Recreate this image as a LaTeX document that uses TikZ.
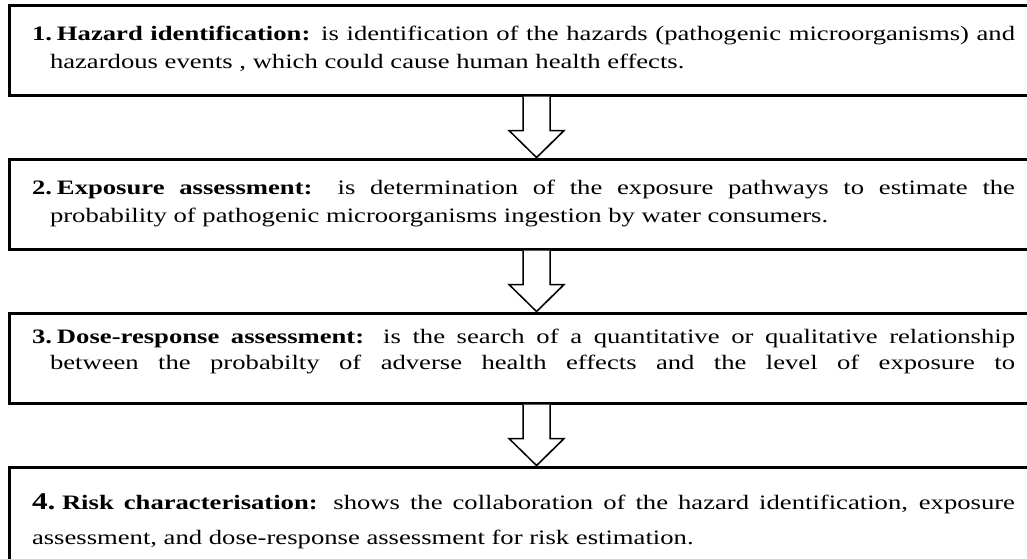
\documentclass[tikz,border=0pt]{standalone}
\usepackage{fontspec}
\setmainfont{Liberation Serif}[FakeStretch=1.3]
\usetikzlibrary{positioning, calc, shadows}

\newcommand{\stagetext}[2]{\leftskip=18pt\relax\hspace*{-18pt}\makebox[25pt][l]{\textbf{#1}}#2\par}

\begin{document}
\begin{tikzpicture}[
    node distance=61pt,
    stage/.style={rectangle, draw=black, line width=3pt, fill=white,
                  text width=983pt, inner xsep=23pt, inner ysep=0pt,
                  text height=35pt, text depth=55pt, align=justify,
                  font=\fontsize{20.5}{28.5}\selectfont},
    flowarrow/.style={draw=black, line width=1.5pt, fill=white,
                  drop shadow={shadow xshift=1pt, shadow yshift=-1pt, opacity=0.3}},
  ]
    \useasboundingbox (0,0) rectangle (1027pt,-558pt);
    \clip (0,0) rectangle (1027pt,-558pt);
    \node[stage, anchor=north west] (HAZ) at (7.5pt,-3.5pt)
      {\stagetext{1.}{\textbf{Hazard identification:} is identification of the hazards (pathogenic microorganisms) and\linebreak hazardous events , which could cause human health effects.}};
    \node[stage, below=of HAZ] (EXP)
      {\stagetext{2.}{\textbf{Exposure assessment:} is determination of the exposure pathways to estimate the\linebreak probability of pathogenic microorganisms ingestion by water consumers.}};
    \node[stage, text height=30pt, text depth=60pt, font=\fontsize{20.5}{26}\selectfont, below=of EXP] (DOSE)
      {\parfillskip=0pt\stagetext{3.}{\textbf{Dose-response assessment:} is the search of a quantitative or qualitative relationship\linebreak between the probabilty of adverse health effects and the level of exposure to}};
    \node[stage, text height=42pt, text depth=51pt, font=\fontsize{20.5}{35}\selectfont, below=of DOSE] (RISK)
      {\makebox[30pt][l]{\fontsize{24}{35}\selectfont\textbf{4.}}\textbf{Risk characterisation:} shows the collaboration of the hazard identification, exposure\linebreak assessment, and dose-response assessment for risk estimation.};
    \foreach \a/\b in {HAZ/EXP, EXP/DOSE, DOSE/RISK}
      \draw[flowarrow] let \p1=($(\a.south)+(13pt,0)$), \p2=($(\b.north)+(13pt,0)$) in
        (\x1-13.5pt,\y1) -- (\x1-13.5pt,\y2+27pt) -- (\x1-27.5pt,\y2+27pt) -- (\x2,\y2)
        -- (\x1+27.5pt,\y2+27pt) -- (\x1+13.5pt,\y2+27pt) -- (\x1+13.5pt,\y1);
\end{tikzpicture}
\end{document}
